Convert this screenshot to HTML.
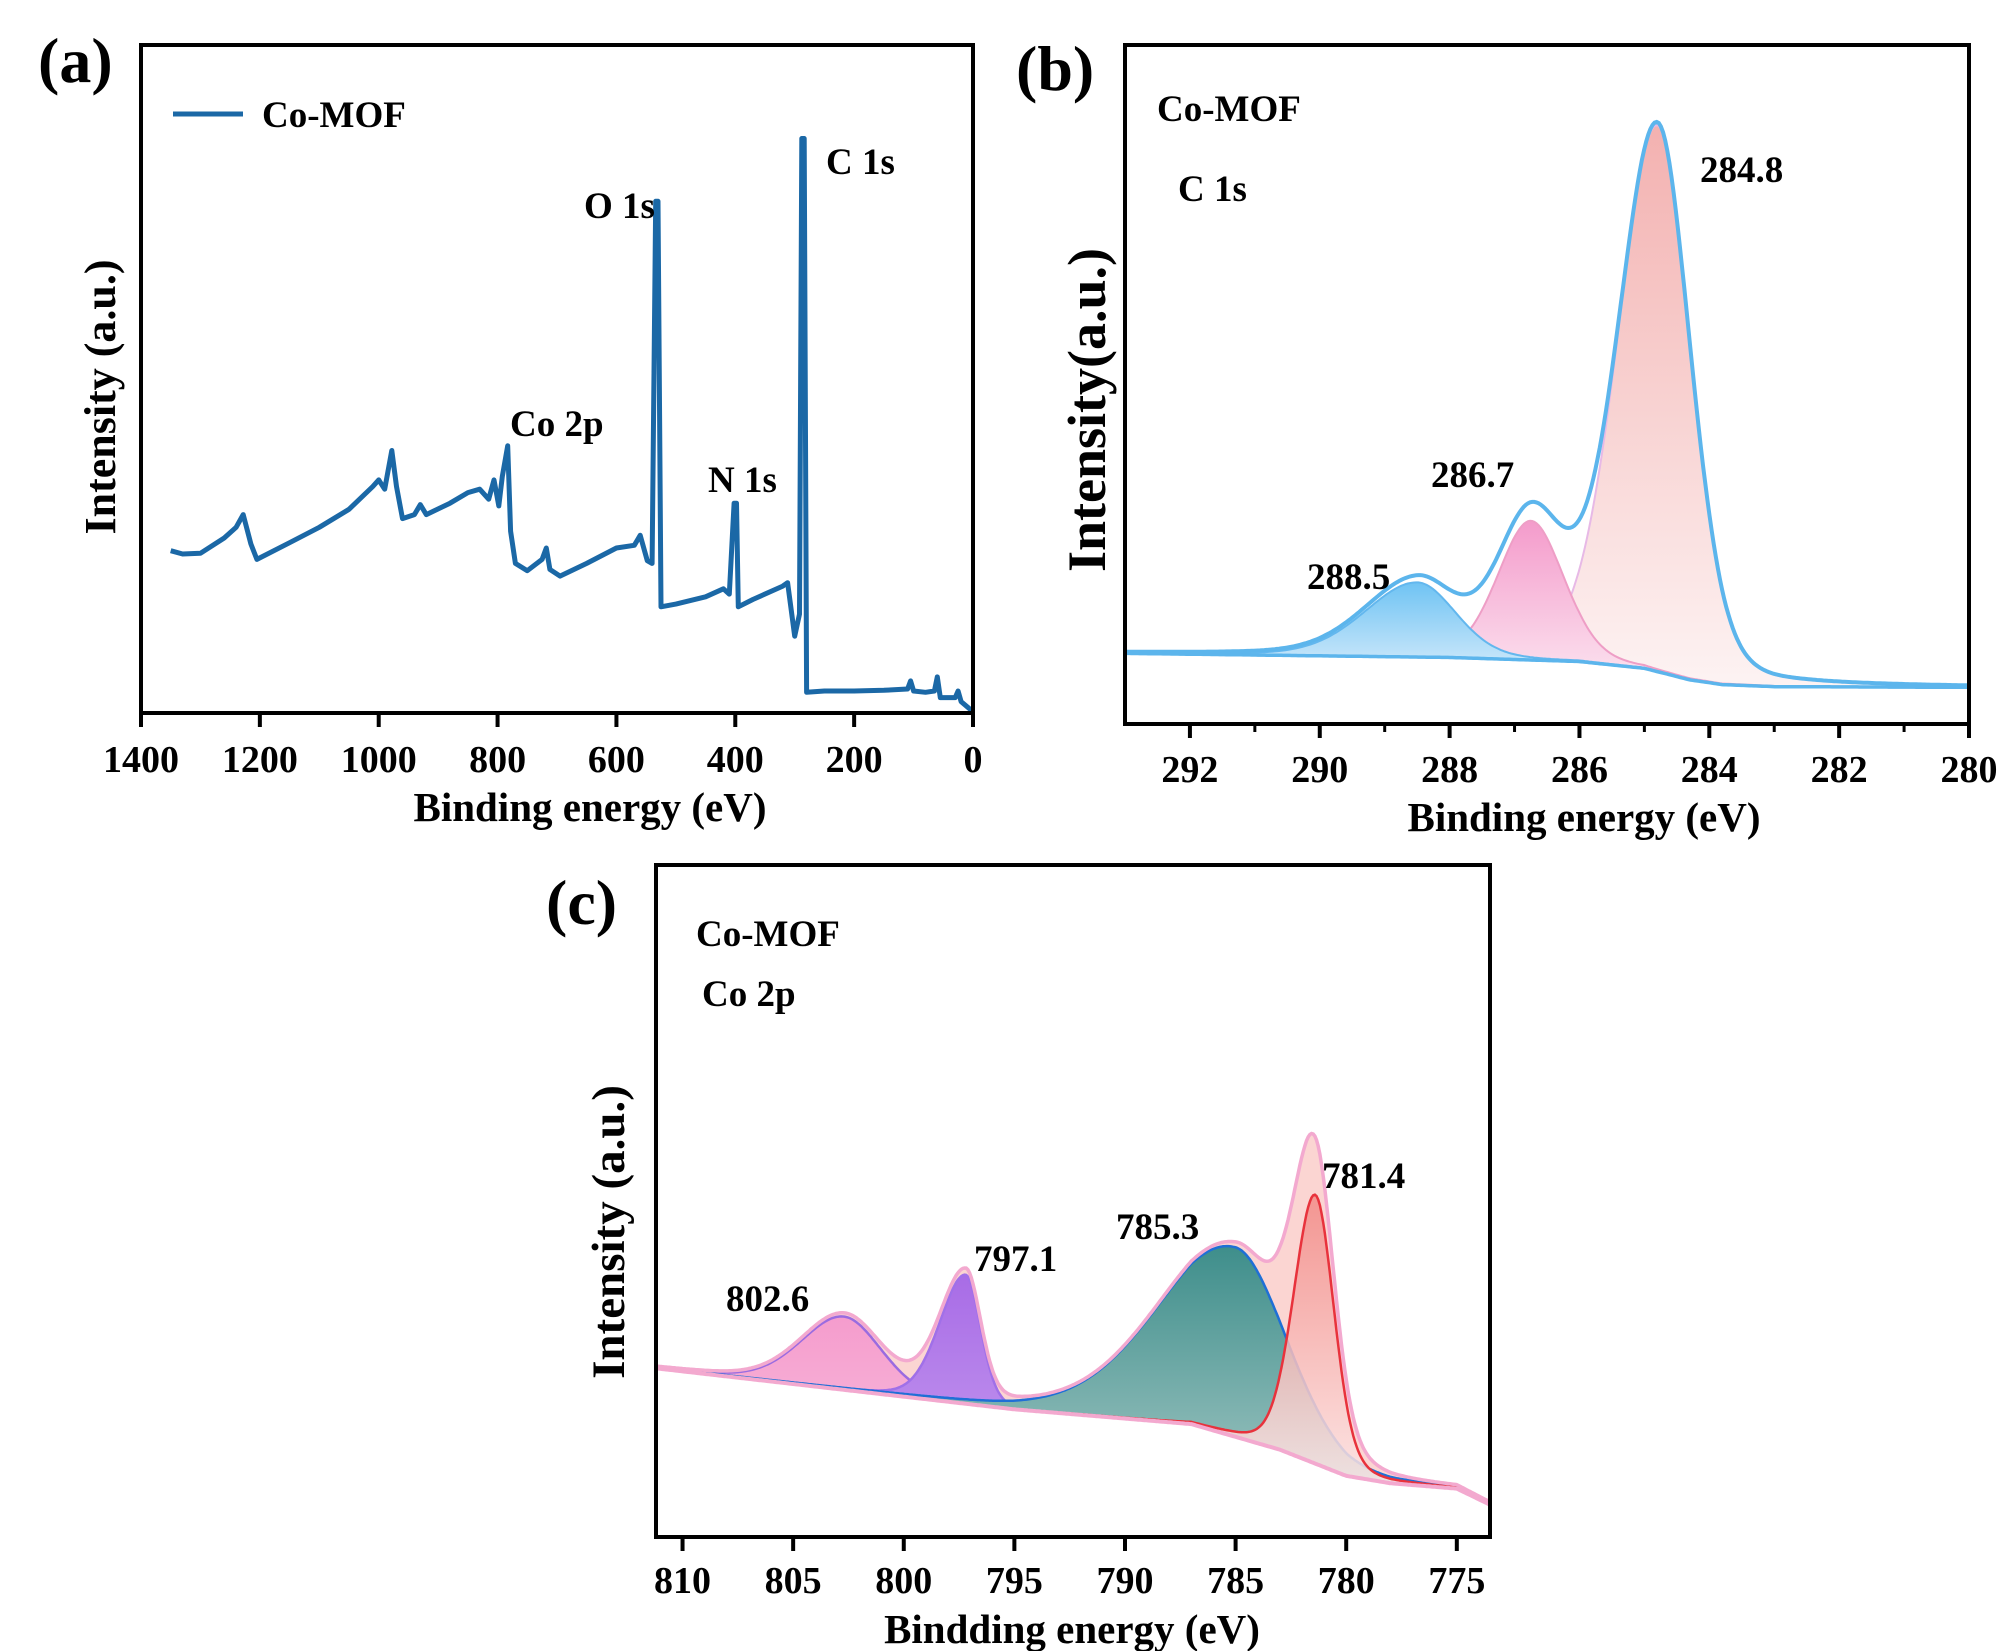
<!DOCTYPE html>
<html><head><meta charset="utf-8"><style>
html,body{margin:0;padding:0;background:#fff;}
svg{display:block;font-family:"Liberation Serif",serif;font-weight:bold;}
</style></head><body>
<svg id="fig" width="2000" height="1651" viewBox="0 0 2000 1651" xmlns="http://www.w3.org/2000/svg">
<defs>
<linearGradient id="gC284" x1="0" y1="0" x2="0" y2="1"><stop offset="0" stop-color="#f3b1b0"/><stop offset="1" stop-color="#fdf3f3"/></linearGradient>
<linearGradient id="gC286" x1="0" y1="0" x2="0" y2="1"><stop offset="0" stop-color="#f49bcb"/><stop offset="1" stop-color="#fce6f1"/></linearGradient>
<linearGradient id="gC288" x1="0" y1="0" x2="0" y2="1"><stop offset="0" stop-color="#6fc3f3"/><stop offset="1" stop-color="#e3f1fc"/></linearGradient>
<linearGradient id="gCo781" x1="0" y1="0" x2="0" y2="1"><stop offset="0" stop-color="#f28a86"/><stop offset="1" stop-color="#fdeeee"/></linearGradient>
<linearGradient id="gCo785" x1="0" y1="0" x2="0" y2="1"><stop offset="0" stop-color="#3e8e8b"/><stop offset="1" stop-color="#a3c7c4"/></linearGradient>
<linearGradient id="gCo797" x1="0" y1="0" x2="0" y2="1"><stop offset="0" stop-color="#a86ce6"/><stop offset="1" stop-color="#c79df0"/></linearGradient>
<linearGradient id="gCo802" x1="0" y1="0" x2="0" y2="1"><stop offset="0" stop-color="#f59ccd"/><stop offset="1" stop-color="#f8c3df"/></linearGradient>
</defs>
<g id="pa"></g>
<g id="pb"></g>
<g id="pc"></g>
</svg>
<script>
// ---- Panel (a) survey spectrum data ----
const surveyEnergy = [1350,1330,1300,1260,1240,1228,1215,1205,1150,1100,1050,1010,1000,990,978,970,960,940,930,920,880,850,830,815,806,798,792,783,778,770,750,725,718,712,695,650,600,570,560,548,540,534,530,525,500,450,420,410,402,398,395,370,320,312,300,292,288,284,280,250,200,150,110,105,100,80,65,60,55,30,25,20,0];
const surveyIntensity = [24.3,23.8,23.9,26.2,27.8,29.7,25.3,23.0,25.5,27.8,30.5,33.9,34.9,33.5,39.3,33.9,29.1,29.7,31.2,29.7,31.4,33.0,33.5,32.0,34.9,31.0,35.4,40.0,27.2,22.4,21.3,23.0,24.7,21.5,20.5,22.4,24.7,25.1,26.6,22.8,22.4,76.6,76.6,15.9,16.3,17.4,18.6,17.8,31.4,31.4,15.9,17.0,19.0,19.5,11.5,14.8,86.0,86.0,3.1,3.3,3.3,3.4,3.6,4.8,3.3,3.1,3.3,5.4,2.3,2.3,3.3,1.7,0.2];
const surveyTicks = [1400,1200,1000,800,600,400,200,0];
const surveyLabels = ["O 1s","C 1s","Co 2p","N 1s"];
// ---- Panel (b) C 1s fit data ----
const c1sCenters = [284.8,286.75,288.5];
const c1sAmps = [80.5,20.5,11.0];
const c1sHwHigh = [0.72,0.6,0.95];
const c1sHwLow = [0.6,0.6,0.7];
const c1sPeakLabels = ["284.8","286.7","288.5"];
const c1sBaseE = [293,288,286,285,284.3,283.8,283,280];
const c1sBaseV = [10.4,9.8,9.2,8.2,6.5,5.8,5.5,5.4];
const c1sTicks = [292,290,288,286,284,282,280];
// ---- Panel (c) Co 2p fit data ----
const coCenters = [802.7,797.2,785.0,781.4];
const coAmps = [10.9,19.2,28.2,40.0];
const coHwHigh = [2.3,1.4,4.2,1.15];
const coHwLow = [2.0,0.8,2.7,1.0];
const coPeakLabels = ["802.6","797.1","785.3","781.4"];
const coBaseE = [811.2,795,787,783,780,778,775,773.5];
const coBaseV = [25.1,19.0,16.8,13.0,9.1,8.0,7.2,4.8];
const coTicks = [810,805,800,795,790,785,780,775];

const NS="http://www.w3.org/2000/svg";
function mk(parent,tag,attrs,text){const e=document.createElementNS(NS,tag);for(const k in attrs)e.setAttribute(k,attrs[k]);if(text!==undefined)e.textContent=text;parent.appendChild(e);return e;}
function axes(x0,x1,y0,y1,dmin,dmax){return{sx:v=>x0+(v-dmin)/(dmax-dmin)*(x1-x0),sy:v=>y1-v/100*(y1-y0)};}
function interp(es,vs,e){
  if(e>=es[0])return vs[0]; for(let i=1;i<es.length;i++){if(e>=es[i]){const t=(es[i-1]-e)/(es[i-1]-es[i]);return vs[i-1]+t*(vs[i]-vs[i-1]);}} return vs[vs.length-1];}
function peak(e,c,a,hwH,hwL){const hw=e>c?hwH:hwL;const q=(e-c)*(e-c)/(hw*hw);const m=0.2;return a*((1-m)*Math.exp(-Math.LN2*q)+m/(1+q));}
function frame(g,x0,x1,y0,y1){
  const r=mk(g,'rect',{x:x0,y:y0,width:x1-x0,height:y1-y0,fill:'none',stroke:'#000','stroke-width':4});
  
  
}
function xTicks(g,ax,ticks,y1,labY,minor){
  ticks.forEach(t=>{
    const x=ax.sx(t);
    const l=mk(g,'line',{x1:x,x2:x,y1:y1,y2:y1+14,stroke:'#000','stroke-width':4});
    
    
    const tx=mk(g,'text',{x:x,y:labY,'font-size':38,'text-anchor':'middle'},String(t));
    
    
  });
  (minor||[]).forEach(t=>{
    const x=ax.sx(t);
    const l=mk(g,'line',{x1:x,x2:x,y1:y1,y2:y1+8,stroke:'#000','stroke-width':3});
    
    
  });
}
function txt(g,x,y,s,size,name,anchor,rot){
  const a={x:x,y:y,'font-size':size,'text-anchor':anchor||'start'};
  if(rot)a.transform=`rotate(-90 ${x} ${y})`;
  const t=mk(g,'text',a,s);
  
  
  return t;
}
function pathFrom(pts){return pts.map((p,i)=>(i?'L':'M')+p[0].toFixed(1)+','+p[1].toFixed(1)).join('');}

// ===== Panel A =====
(function(){
  const g=document.getElementById('pa');
  const x0=141,x1=973,y0=45,y1=713;
  const ax=axes(x0,x1,y0,y1,1400,0);
  const pts=surveyEnergy.map((e,i)=>[ax.sx(e),ax.sy(surveyIntensity[i])]);
  const p=mk(g,'path',{d:pathFrom(pts),fill:'none',stroke:'#1b68a6','stroke-width':5,'stroke-linejoin':'round'});
  
  
  frame(g,x0,x1,y0,y1);
  xTicks(g,ax,surveyTicks,y1,772);
  txt(g,590,821,'Binding energy (eV)',41,'x-axis-title','middle');
  txt(g,115,397,'Intensity (a.u.)',44,'y-axis-title','middle',true);
  txt(g,38,82,'(a)',64,'panel-label-a');
  const ll=mk(g,'line',{x1:173,x2:243,y1:114,y2:114,stroke:'#1b68a6','stroke-width':5});
  
  
  txt(g,262,127,'Co-MOF',37,'legend-label');
  const lp=[[584,218],[826,174],[510,436],[708,492]];
  surveyLabels.forEach((s,i)=>txt(g,lp[i][0],lp[i][1],s,37,'peak-label'));
})();

// ===== Panel B =====
(function(){
  const g=document.getElementById('pb');
  const x0=1125,x1=1969,y0=45,y1=724;
  const ax=axes(x0,x1,y0,y1,293,280);
  const N=400, E=[];
  for(let i=0;i<=N;i++)E.push(293-13*i/N);
  const base=e=>interp(c1sBaseE,c1sBaseV,e);
  const fills=['url(#gC284)','url(#gC286)','url(#gC288)'];
  const strokes=['#e7b9e6','#ee9ec6','#63b7ee'];
  const basePtsR=E.slice().reverse().map(e=>[ax.sx(e),ax.sy(base(e))]);
  [0,1,2].forEach(k=>{
    const top=E.map(e=>[ax.sx(e),ax.sy(base(e)+peak(e,c1sCenters[k],c1sAmps[k],c1sHwHigh[k],c1sHwLow[k]))]);
    const f=mk(g,'path',{d:pathFrom(top.concat(basePtsR))+'Z',fill:fills[k],stroke:'none'});
    
    
    const l=mk(g,'path',{d:pathFrom(top),fill:'none',stroke:strokes[k],'stroke-width':2});
    
    
  });
  const bl=mk(g,'path',{d:pathFrom(E.map(e=>[ax.sx(e),ax.sy(base(e))])),fill:'none',stroke:'#5cb5ec','stroke-width':3.5});
  
  
  const env=E.map(e=>{let v=base(e);for(let k=0;k<3;k++)v+=peak(e,c1sCenters[k],c1sAmps[k],c1sHwHigh[k],c1sHwLow[k]);return [ax.sx(e),ax.sy(v)];});
  const el=mk(g,'path',{d:pathFrom(env),fill:'none',stroke:'#5cb5ec','stroke-width':4});
  
  
  frame(g,x0,x1,y0,y1);
  xTicks(g,ax,c1sTicks,y1,782,[291,289,287,285,283,281]);
  txt(g,1584,831,'Binding energy (eV)',41,'x-axis-title','middle');
  txt(g,1105,410,'Intensity(a.u.)',54,'y-axis-title','middle',true);
  txt(g,1016,90,'(b)',64,'panel-label-b');
  txt(g,1157,121,'Co-MOF',37,'sample-label');
  txt(g,1178,201,'C 1s',37,'region-label');
  const lp=[[1700,182],[1431,487],[1307,589]];
  c1sPeakLabels.forEach((s,i)=>txt(g,lp[i][0],lp[i][1],s,37,'peak-label'));
})();

// ===== Panel C =====
(function(){
  const g=document.getElementById('pc');
  const x0=656,x1=1490,y0=865,y1=1537;
  const ax=axes(x0,x1,y0,y1,811.2,773.5);
  const N=500,E=[];
  for(let i=0;i<=N;i++)E.push(811.2-37.7*i/N);
  const base=e=>interp(coBaseE,coBaseV,e);
  const fills=['url(#gCo802)','url(#gCo797)','url(#gCo785)','url(#gCo781)'];
  const strokes=['#9a6be0','#a070e8','#1f6fd6','#e8323c'];
  const envV=E.map(e=>{let v=base(e);for(let k=0;k<4;k++)v+=peak(e,coCenters[k],coAmps[k],coHwHigh[k],coHwLow[k]);return v;});
  const envPts=E.map((e,i)=>[ax.sx(e),ax.sy(envV[i])]);
  const basePtsR=E.slice().reverse().map(e=>[ax.sx(e),ax.sy(base(e))]);
  const ef=mk(g,'path',{d:pathFrom(envPts.concat(basePtsR))+'Z',fill:'#fbd5d2',stroke:'none'});
  
  
  [0,1,2,3].forEach(k=>{
    const top=E.map(e=>[ax.sx(e),ax.sy(base(e)+peak(e,coCenters[k],coAmps[k],coHwHigh[k],coHwLow[k]))]);
    const f=mk(g,'path',{d:pathFrom(top.concat(basePtsR))+'Z',fill:fills[k],stroke:'none','fill-opacity':k===3?0.85:1});
    
    
    const l=mk(g,'path',{d:pathFrom(top),fill:'none',stroke:strokes[k],'stroke-width':2.5});
    
    
  });
  const bl=mk(g,'path',{d:pathFrom(E.map(e=>[ax.sx(e),ax.sy(base(e))])),fill:'none',stroke:'#f3a9cf','stroke-width':4});
  
  
  const el=mk(g,'path',{d:pathFrom(envPts),fill:'none',stroke:'#f3a9cf','stroke-width':3.5});
  
  
  frame(g,x0,x1,y0,y1);
  xTicks(g,ax,coTicks,y1,1593);
  txt(g,1072,1643,'Bindding energy (eV)',41,'x-axis-title','middle');
  txt(g,624,1232,'Intensity (a.u.)',47,'y-axis-title','middle',true);
  txt(g,546,924,'(c)',64,'panel-label-c');
  txt(g,696,946,'Co-MOF',37,'sample-label');
  txt(g,702,1006,'Co 2p',37,'region-label');
  const lp=[[726,1311],[974,1271],[1116,1239],[1322,1188]];
  coPeakLabels.forEach((s,i)=>txt(g,lp[i][0],lp[i][1],s,37,'peak-label'));
})();
</script>
</body></html>
